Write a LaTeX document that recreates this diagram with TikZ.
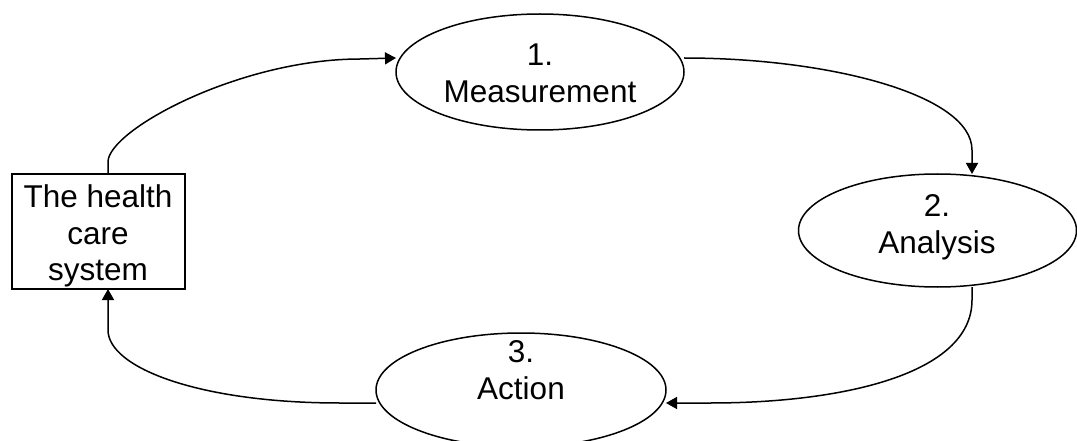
\documentclass[tikz,border=0pt]{standalone}
\usepackage{fontspec}
\setmainfont{Liberation Sans}
\usetikzlibrary{shapes.geometric,arrows.meta}

\begin{document}
\begin{tikzpicture}[x=1pt,y=-1pt,
  every node/.style={inner sep=0pt,outer sep=0pt},
  stage/.style={draw,ellipse,line width=1.5pt},
  sysbox/.style={draw,rectangle,line width=1.5pt},
  lbl/.style={align=center,font=\fontsize{31.5}{36.5}\selectfont},
  flow/.style={line width=1.5pt,-{Triangle[length=11pt,width=12pt]}}
]
\clip (0,0) rectangle (1077,441);

% the system box and the three stages of the cycle
\node[sysbox,minimum width=173pt,minimum height=115pt] (hc) at (98.5,231.5) {};
\node[stage,minimum width=288pt,minimum height=116pt] (me) at (540,72) {};
\node[stage,minimum width=278pt,minimum height=113pt] (an) at (937.5,230.5) {};
\node[stage,minimum width=290pt,minimum height=114pt] (ac) at (521,390) {};

% labels
\node[lbl] (hct) at (98,236) {The health\\care\\system};
\node[lbl] (met) at (540,73.5) {1.\\Measurement};
\node[lbl] (ant) at (937,227.5) {2.\\Analysis};
\node[lbl] (act) at (521,370) {3.\\Action};

% cycle connectors
\draw[flow] ([xshift=9.5pt]hc.north) -- (108,162)
  .. controls (108,130) and (240,59) .. (360,59) -- ([yshift=14pt]me.west);
\draw[flow] ([yshift=14pt]me.east)
  .. controls (830,58) and (972,95) .. (972,150) -- ([xshift=34.5pt]an.north);
\draw[flow] ([xshift=34.5pt]an.south) -- (972,300)
  .. controls (972,375) and (840,403) .. (710,403) -- ([yshift=-13pt]ac.east);
\draw[flow] ([yshift=-13pt]ac.west) -- (340,403)
  .. controls (200,403) and (108,368) .. (108,330) -- ([xshift=9.5pt]hc.south);
\end{tikzpicture}
\end{document}
